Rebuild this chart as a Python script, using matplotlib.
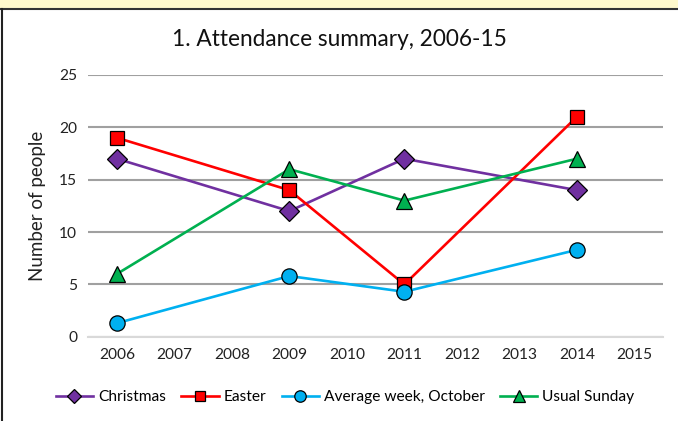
import matplotlib

matplotlib.use("Agg")
import matplotlib.pyplot as plt
from matplotlib.lines import Line2D
from matplotlib.patches import Rectangle

plt.rcParams["font.family"] = ["Lato", "DejaVu Sans"]

# ---------------------------------------------------------------------------
# Data
# ---------------------------------------------------------------------------
years = ["2006", "2007", "2008", "2009", "2010", "2011", "2012", "2013", "2014", "2015"]
survey_years = ["2006", "2009", "2011", "2014"]
christmas = [17, 12, 17, 14]
easter = [19, 14, 5, 21]
average_week_october = [1.3, 5.8, 4.3, 8.3]
usual_sunday = [6, 16, 13, 17]

series = [
    ("Christmas", christmas, "#7030A0", "D", 10),
    ("Easter", easter, "#FF0000", "s", 10),
    ("Average week, October", average_week_october, "#00B0F0", "o", 11),
    ("Usual Sunday", usual_sunday, "#00B050", "^", 11),
]

fig = plt.figure(figsize=(6.78, 4.21), dpi=100)
ax = fig.add_axes([0.130, 0.200, 0.848, 0.622])

xpos = [years.index(y) for y in survey_years]
for label, values, colour, marker, size in series:
    ax.plot(
        xpos,
        values,
        color=colour,
        linewidth=1.9,
        marker=marker,
        markersize=size,
        markerfacecolor=colour,
        markeredgecolor="black",
        markeredgewidth=0.9,
        label=label,
        zorder=3,
    )

ax.set_xlim(-0.5, len(years) - 0.5)
ax.set_ylim(0, 25)
ax.set_xticks(range(len(years)))
ax.set_xticklabels(years)
ax.set_yticks(range(0, 26, 5))
ax.tick_params(axis="both", length=0, labelsize=11.2, colors="#222222", pad=8)
ax.grid(axis="y", color="#A0A0A0", linewidth=1.5)
ax.set_axisbelow(True)
for side in ("top", "right", "left"):
    ax.spines[side].set_visible(False)
ax.spines["bottom"].set_color("#D9D9D9")
ax.spines["bottom"].set_linewidth(1.5)

fig.text(0.5, 0.905, "1. Attendance summary, 2006-15", ha="center", va="center",
         fontsize=16.3, color="#111111")
fig.text(38 / 678, 0.200 + 0.622 / 2, "Number of people", rotation=90,
         ha="center", va="center", fontsize=13.5, color="#222222")

ax.legend(
    loc="center",
    bbox_to_anchor=(345 / 678, 0.057),
    bbox_transform=fig.transFigure,
    ncol=4,
    frameon=False,
    fontsize=11.2,
    markerscale=0.75,
    handlelength=2.4,
    handletextpad=0.3,
    columnspacing=1.0,
)

# frame bits: yellow strip at the top, dark border top and left
fig.patches.append(Rectangle((0, 1 - 8 / 421), 1, 8 / 421, transform=fig.transFigure,
                             facecolor="#FFF9CC", edgecolor="none"))
fig.lines.append(Line2D([0, 1], [1 - 9 / 421] * 2, transform=fig.transFigure,
                        color="#333333", linewidth=1.5))
fig.lines.append(Line2D([2 / 678] * 2, [0, 1 - 9 / 421], transform=fig.transFigure,
                        color="#222222", linewidth=1.5))

fig.savefig("out.png", dpi=100)
